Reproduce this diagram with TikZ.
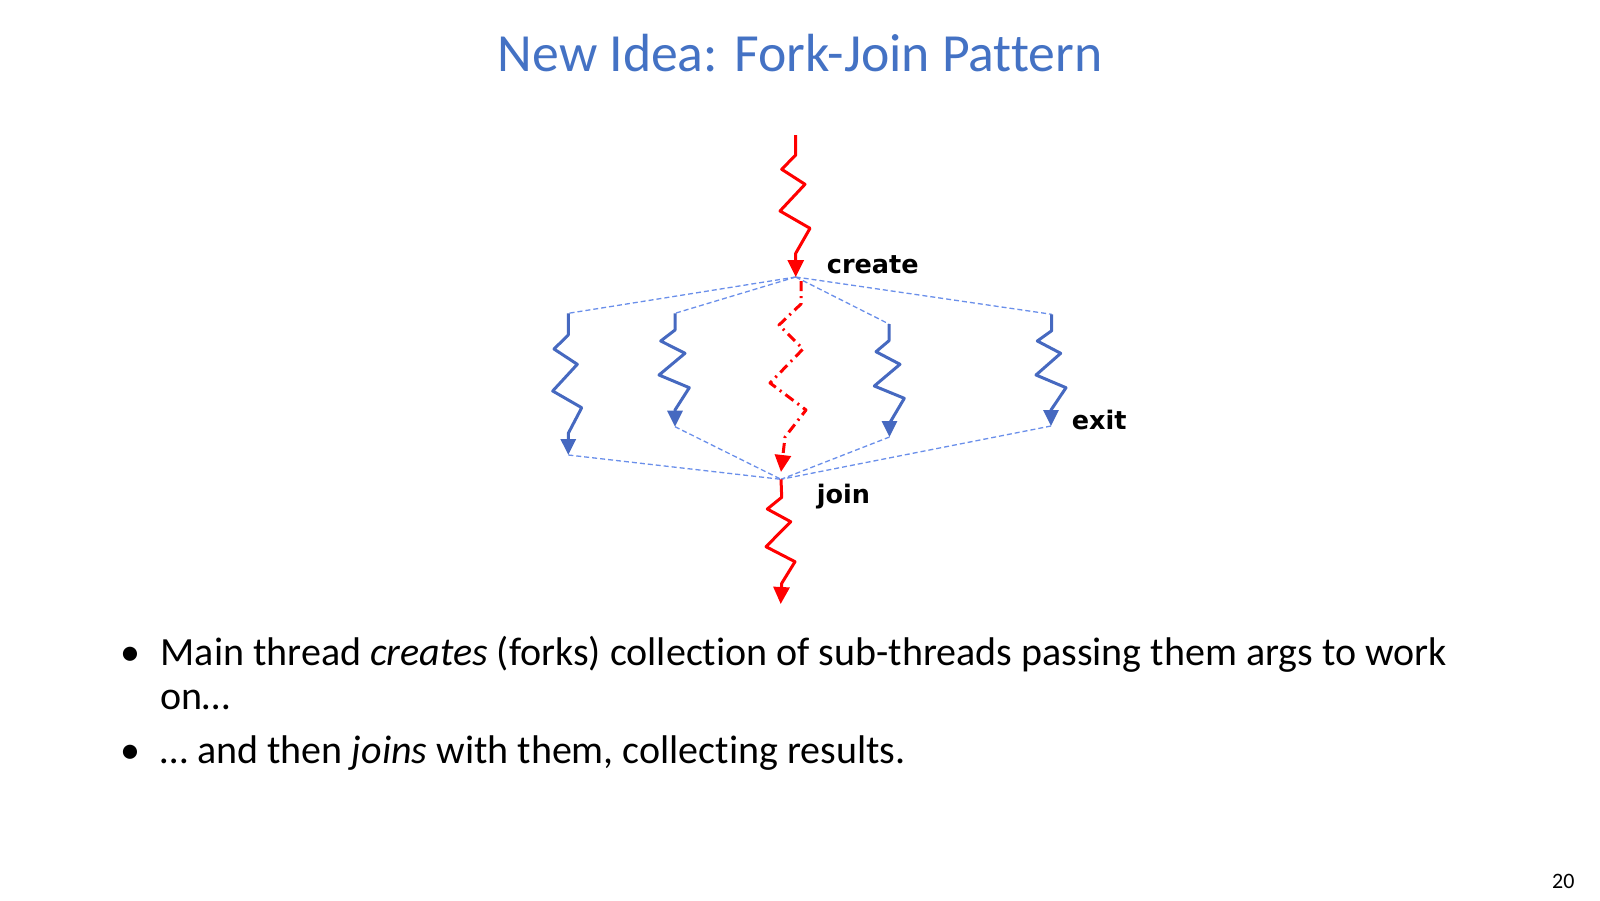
\documentclass[tikz,border=0pt]{standalone}
\usepackage{fontspec}
\setmainfont{Carlito}[Ligatures=NoCommon]
\newfontfamily\labelfont{DejaVu Sans}
\usetikzlibrary{arrows.meta}
\definecolor{titleblue}{HTML}{4472C4}
\definecolor{threadblue}{HTML}{4669C0}
\definecolor{dashblue}{HTML}{6A8FEA}
\definecolor{threadred}{HTML}{FF0000}
\tikzset{
  thread/.style={line width=3pt, line join=round},
  redthread/.style={thread, draw=threadred, -{Triangle[width=16pt,length=17pt]}},
  bluethread/.style={thread, draw=threadblue, -{Triangle[width=15pt,length=16pt]}},
  midthread/.style={redthread, dash pattern=on 10pt off 5pt on 2pt off 5pt},
  link/.style={draw=dashblue, line width=1.3pt, dash pattern=on 5pt off 3pt},
  lbl/.style={font=\labelfont\bfseries\fontsize{25.5}{28}\selectfont, anchor=base west, inner sep=0pt},
  bodytext/.style={font=\fontsize{40}{44}\selectfont, anchor=base west, inner sep=0pt},
}
\begin{document}
\begin{tikzpicture}[x=1pt,y=-1pt]
\useasboundingbox (0,0) rectangle (1600,900);
% title
\node[font=\fontsize{53.7}{58}\selectfont, text=titleblue, anchor=base, inner sep=0pt] (title) at (800,71.4) {New Idea: Fork-Join Pattern};
% hubs and ends
\coordinate (R0) at (795.7,135);
\coordinate (C) at (795.7,277);
\coordinate (J) at (781,479.3);
\coordinate (R1) at (780.7,604);
\coordinate (T1) at (568.3,313.3);
\coordinate (E1) at (568.3,455);
\coordinate (T2) at (675,313.3);
\coordinate (E2) at (675,426.7);
\coordinate (T3) at (889,324);
\coordinate (E3) at (889.5,437);
\coordinate (T4) at (1051.7,314.3);
\coordinate (E4) at (1051,426);
\coordinate (M0) at (801,281);
\coordinate (M1) at (781,472);
% dashed fork/join links
\draw[link] (C) -- (T1);
\draw[link] (C) -- (T2);
\draw[link] (C) -- (T3);
\draw[link] (C) -- (T4);
\draw[link] (E1) -- (J);
\draw[link] (E2) -- (J);
\draw[link] (E3) -- (J);
\draw[link] (E4) -- (J);
% main thread (top)
\draw[redthread] (R0) -- (795.7,155) -- (781.7,169.3) -- (805,184.3) -- (780,211) -- (810,228.3) -- (795.7,253.3) -- (C);
% main thread waiting (dash-dot)
\draw[midthread] (M0) -- (801,304) -- (779,325) -- (803,349) -- (770,383) -- (806,410) -- (785,437) -- (M1);
% main thread (bottom)
\draw[redthread] (J) -- (781.7,497.3) -- (767.3,509) -- (790.7,521.7) -- (766,546.7) -- (795,561.7) -- (781.7,583.3) -- (R1);
% sub-threads
\draw[bluethread] (T1) -- (568.3,335) -- (554,349) -- (577.3,364.3) -- (552.7,391) -- (581.7,407.7) -- (568.3,433.3) -- (E1);
\draw[bluethread] (T2) -- (675,330) -- (660.7,341) -- (685,353.3) -- (659,375) -- (689.3,387.7) -- (675,410) -- (E2);
\draw[bluethread] (T3) -- (889,340.7) -- (876,351.7) -- (900,364.3) -- (874.3,386) -- (904.3,398.3) -- (889.5,423.3) -- (E3);
\draw[bluethread] (T4) -- (1051.7,330.7) -- (1037.3,341) -- (1060.7,353.3) -- (1036,375) -- (1066,387.7) -- (1051,410) -- (E4);
% labels
\node[lbl] (create) at (826.7,273) {create};
\node[lbl] (exit) at (1071.7,429.3) {exit};
\node[lbl] (join) at (816.7,503.3) {join};
% bullets
\node[bodytext, anchor=base] (b1) at (130.8,665) {•};
\node[bodytext] (l1) at (160.5,665) {Main thread \textit{creates} (forks) collection of sub-threads passing them args to work};
\node[bodytext] (l2) at (160.5,709.5) {on…};
\node[bodytext, anchor=base] (b2) at (130.8,763) {•};
\node[bodytext] (l3) at (160.5,763) {… and then \textit{joins} with them, collecting results.};
% page number
\node[font=\fontsize{22}{24}\selectfont, anchor=base, inner sep=0pt] (page) at (1563.3,888.3) {20};
\end{tikzpicture}
\end{document}
